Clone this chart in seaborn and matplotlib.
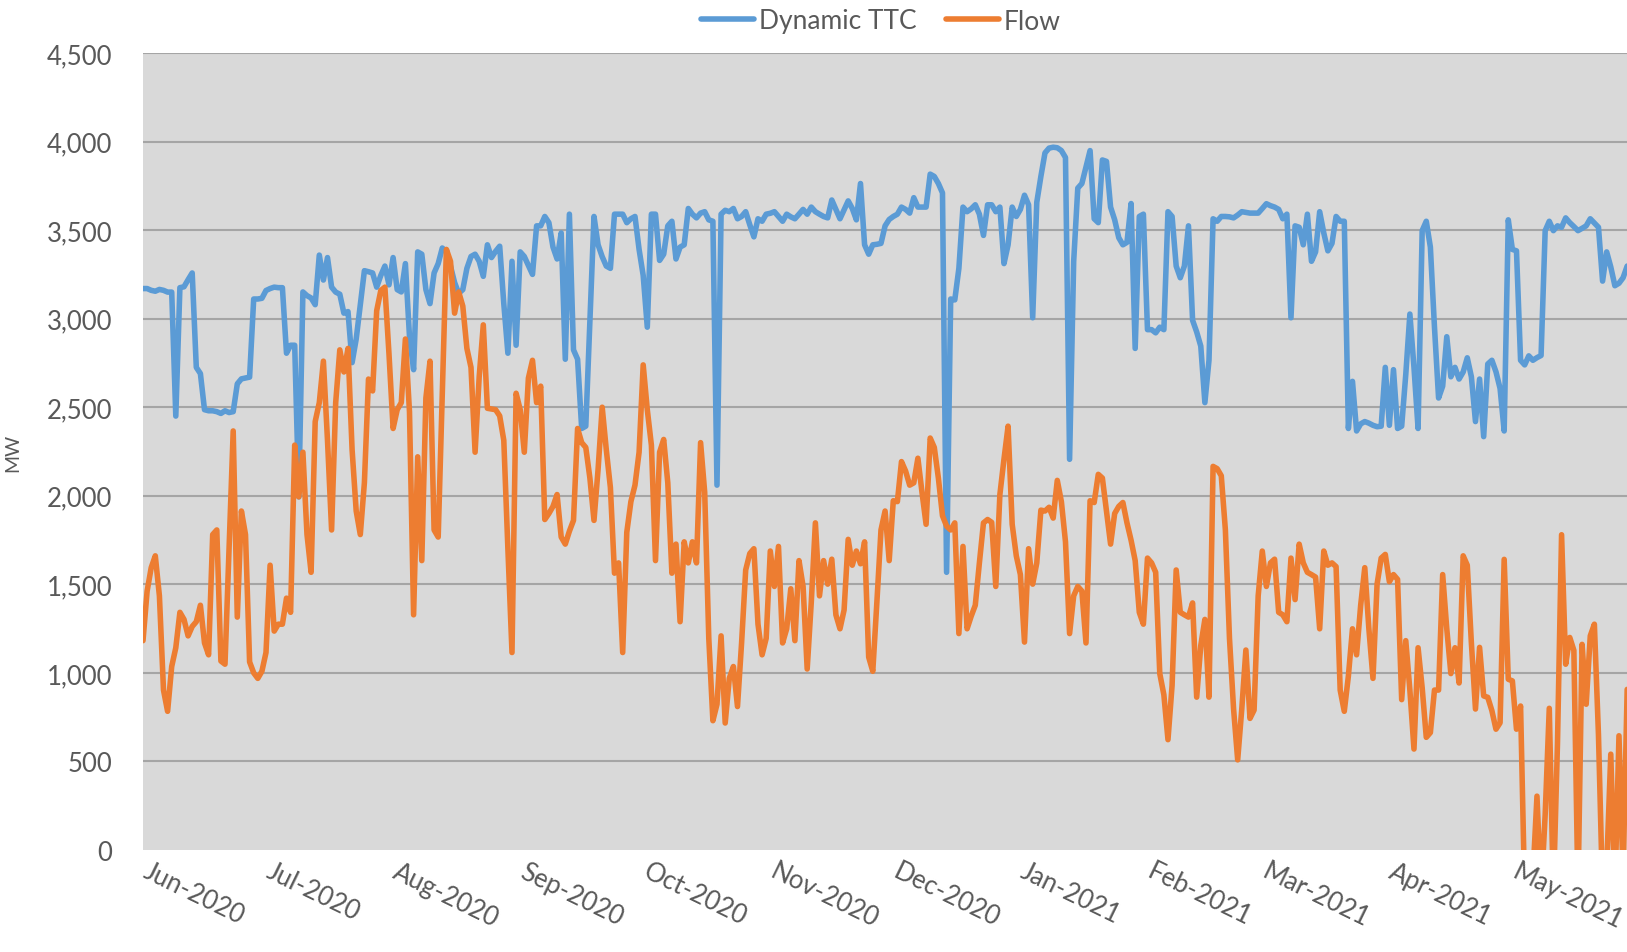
import numpy as np
import pandas as pd
import matplotlib
matplotlib.use("Agg")
import matplotlib.pyplot as plt
import matplotlib.dates as mdates
import matplotlib.ticker as mticker
import matplotlib.transforms as mtransforms
import seaborn as sns

# ---------------- data (daily, starting 1 Jun 2020) ----------------
start_date = "2020-06-01"

dynamic_ttc = [
    3170, 3170, 3160, 3155, 3165, 3160, 3150, 3150, 2450, 3175,
    3180, 3220, 3258, 2725, 2690, 2486, 2480, 2480, 2475, 2465,
    2480, 2470, 2475, 2632, 2660, 2665, 2670, 3111, 3111, 3115,
    3159, 3170, 3178, 3175, 3175, 2805, 2850, 2850, 1994, 3151,
    3130, 3117, 3079, 3359, 3218, 3345, 3178, 3150, 3138, 3031,
    3040, 2752, 2885, 3080, 3271, 3265, 3258, 3178, 3244, 3297,
    3191, 3345, 3164, 3151, 3311, 2898, 2712, 3377, 3364, 3164,
    3085, 3258, 3311, 3399, 3377, 3297, 3204, 3143, 3164, 3284,
    3351, 3364, 3324, 3239, 3417, 3345, 3380, 3409, 3085, 2805,
    3324, 2850, 3377, 3351, 3300, 3250, 3524, 3524, 3577, 3542,
    3404, 3337, 3484, 2771, 3590, 2824, 2771, 2380, 2393, 2990,
    3577, 3417, 3350, 3297, 3284, 3590, 3590, 3590, 3542, 3564,
    3577, 3391, 3244, 2952, 3590, 3590, 3329, 3364, 3524, 3550,
    3337, 3404, 3417, 3622, 3590, 3569, 3596, 3604, 3558, 3550,
    2060, 3590, 3612, 3604, 3622, 3564, 3577, 3604, 3530, 3462,
    3564, 3550, 3590, 3595, 3604, 3577, 3550, 3590, 3575, 3564,
    3590, 3617, 3590, 3630, 3604, 3590, 3577, 3569, 3670, 3617,
    3564, 3615, 3665, 3622, 3558, 3763, 3417, 3364, 3417, 3420,
    3425, 3524, 3560, 3577, 3590, 3630, 3617, 3596, 3683, 3630,
    3630, 3630, 3816, 3803, 3763, 3710, 1568, 3111, 3106, 3284,
    3630, 3604, 3620, 3643, 3590, 3470, 3643, 3643, 3604, 3630,
    3311, 3417, 3630, 3577, 3617, 3697, 3643, 3005, 3657, 3803,
    3936, 3963, 3968, 3965, 3949, 3910, 2206, 3324, 3737, 3763,
    3856, 3949, 3564, 3542, 3896, 3888, 3630, 3558, 3457, 3417,
    3431, 3650, 2832, 3577, 3590, 2938, 2938, 2920, 2952, 2938,
    3604, 3577, 3297, 3231, 3297, 3524, 2991, 2925, 2845, 2526,
    2765, 3564, 3550, 3577, 3577, 3575, 3569, 3585, 3604, 3600,
    3596, 3596, 3596, 3622, 3649, 3638, 3630, 3617, 3564, 3590,
    3005, 3524, 3516, 3417, 3590, 3324, 3377, 3604, 3484, 3383,
    3425, 3577, 3550, 3550, 2380, 2646, 2366, 2406, 2419, 2410,
    2398, 2390, 2393, 2725, 2398, 2712, 2380, 2393, 2685, 3026,
    2725, 2380, 3497, 3550, 3404, 2952, 2552, 2619, 2898, 2672,
    2725, 2659, 2699, 2779, 2672, 2419, 2659, 2334, 2744, 2765,
    2700, 2606, 2366, 3558, 3391, 3383, 2765, 2739, 2790, 2765,
    2780, 2792, 3497, 3550, 3497, 3524, 3516, 3569, 3542, 3520,
    3497, 3510, 3524, 3564, 3540, 3516, 3212, 3377, 3292, 3186,
    3200, 3231, 3297,
]

flow = [
    1182, 1461, 1594, 1661, 1435, 903, 783, 1036, 1142, 1342,
    1302, 1209, 1262, 1289, 1382, 1169, 1102, 1781, 1807, 1067,
    1049, 1700, 2366, 1315, 1914, 1781, 1062, 1000, 969, 1009,
    1115, 1608, 1236, 1275, 1275, 1422, 1342, 2286, 1994, 2246,
    1781, 1568, 2419, 2526, 2760, 2313, 1807, 2526, 2824, 2699,
    2832, 2260, 1914, 1781, 2074, 2659, 2592, 3045, 3159, 3178,
    2800, 2380, 2486, 2526, 2885, 2473, 1328, 2220, 1634, 2552,
    2760, 1807, 1767, 2579, 3391, 3324, 3031, 3151, 3071, 2832,
    2725, 2246, 2672, 2965, 2494, 2490, 2486, 2451, 2313, 1700,
    1115, 2579, 2486, 2246, 2664, 2765, 2526, 2619, 1866, 1900,
    1940, 2007, 1767, 1727, 1800, 1861, 2380, 2300, 2273, 2100,
    1861, 2150, 2500, 2260, 2047, 1563, 1621, 1115, 1794, 1967,
    2060, 2246, 2739, 2486, 2286, 1634, 2246, 2318, 2073, 1563,
    1727, 1289, 1740, 1621, 1740, 1621, 2300, 2020, 1195, 730,
    823, 1209, 717, 969, 1036, 810, 1169, 1581, 1674, 1701,
    1275, 1102, 1195, 1688, 1488, 1714, 1169, 1249, 1475, 1182,
    1634, 1488, 1022, 1400, 1847, 1435, 1634, 1501, 1642, 1328,
    1249, 1355, 1754, 1608, 1688, 1616, 1740, 1089, 1009, 1400,
    1807, 1914, 1634, 1972, 1967, 2193, 2140, 2060, 2073, 2212,
    2020, 1839, 2326, 2273, 2100, 1887, 1829, 1807, 1847, 1222,
    1714, 1249, 1320, 1382, 1621, 1847, 1866, 1850, 1488, 2007,
    2207, 2393, 1839, 1661, 1555, 1174, 1701, 1501, 1621, 1919,
    1914, 1935, 1874, 2087, 1967, 1740, 1222, 1435, 1488, 1462,
    1169, 1972, 1962, 2121, 2100, 1914, 1727, 1900, 1940, 1962,
    1847, 1749, 1634, 1342, 1275, 1648, 1621, 1568, 996, 876,
    623, 929, 1581, 1342, 1328, 1315, 1395, 863, 1155, 1302,
    863, 2166, 2153, 2113, 1807, 1195, 796, 509, 796, 1129,
    743, 790, 1435, 1688, 1488, 1621, 1642, 1342, 1328, 1289,
    1648, 1414, 1727, 1621, 1568, 1555, 1541, 1249, 1688, 1608,
    1621, 1600, 903, 783, 982, 1249, 1102, 1382, 1594, 1249,
    969, 1501, 1648, 1669, 1515, 1555, 1528, 849, 1182, 903,
    570, 1142, 916, 636, 663, 903, 903, 1555, 1249, 996,
    1142, 943, 1661, 1608, 1169, 796, 1144, 870, 862, 787,
    682, 718, 1641, 964, 955, 682, 813, -250, -100, -150,
    304, -250, 200, 800, -250, 600, 1780, 1049, 1200, 1127,
    -250, 1161, 823, 1209, 1275, 650, -250, -100, 541, -250,
    645, -150, 907,
]

series_names = ["Dynamic TTC", "Flow"]
series_colors = ["#5B9BD5", "#ED7D31"]
y_ticks = [0, 500, 1000, 1500, 2000, 2500, 3000, 3500, 4000, 4500]
y_label = "MW"

# ---------------- build long table ----------------
n = min(len(dynamic_ttc), len(flow))
dates = pd.date_range(start_date, periods=n, freq="D")
df = pd.concat([
    pd.DataFrame({"date": dates, "MW": dynamic_ttc[:n], "series": series_names[0]}),
    pd.DataFrame({"date": dates, "MW": flow[:n], "series": series_names[1]}),
], ignore_index=True)

# ---------------- figure ----------------
W, H = 1627, 953
fig = plt.figure(figsize=(W / 100, H / 100), dpi=100)
fig.patch.set_facecolor("white")
left, right, top, bottom = 143, 1627, 54, 851
ax = fig.add_axes([left / W, 1 - bottom / H, (right - left) / W, (bottom - top) / H])
ax.set_facecolor("#D9D9D9")

font = "Lato"
txt_color = "#595959"
lw = 4.0

sns.lineplot(data=df, x="date", y="MW", hue="series", hue_order=series_names,
             palette=series_colors, linewidth=lw, ax=ax, legend=False,
             estimator=None, sort=False)
for ln in ax.get_lines():
    ln.set_solid_joinstyle("round")
    ln.set_solid_capstyle("round")
    ln.set_zorder(3)

ax.set_ylim(0, 4500)
ax.set_xlim(dates[0], dates[-1] + pd.Timedelta(hours=-1))
ax.yaxis.set_major_locator(mticker.FixedLocator(y_ticks))
ax.yaxis.set_major_formatter(mticker.FuncFormatter(lambda v, p: f"{int(v):,}"))
ax.xaxis.set_major_locator(mdates.MonthLocator())
ax.xaxis.set_major_formatter(mdates.DateFormatter("%b-%Y"))

ax.grid(axis="y", color="#A5A5A5", linewidth=1.5, zorder=1)
ax.grid(axis="x", visible=False)
ax.set_axisbelow(True)
for s in ax.spines.values():
    s.set_visible(False)

ax.tick_params(axis="y", length=0, pad=22, labelsize=18.5, labelcolor=txt_color)
ax.tick_params(axis="x", length=0, pad=6, labelsize=18.5, labelcolor=txt_color)
for lab in ax.get_yticklabels():
    lab.set_fontfamily(font)
shift = mtransforms.ScaledTranslation(7 / 100, 0, fig.dpi_scale_trans)
for lab in ax.get_xticklabels():
    lab.set_fontfamily(font)
    lab.set_rotation(-26)
    lab.set_ha("left")
    lab.set_va("top")
    lab.set_rotation_mode("anchor")
    lab.set_transform(lab.get_transform() + shift)

ax.set_xlabel("")
ax.set_ylabel(y_label, fontsize=14, color=txt_color, fontfamily=font)
ax.yaxis.set_label_coords((21 - left) / (right - left), 0.5)

gl = ax.get_ygridlines()
if len(gl):
    gl[0].set_visible(False)

handles = [plt.Line2D([], [], color=c, linewidth=lw, solid_capstyle="round")
           for c in series_colors]
fig.legend(handles, series_names, loc="center", bbox_to_anchor=(881 / W, 1 - 22 / H),
           ncol=2, frameon=False, handlelength=2.0, handletextpad=0.2,
           columnspacing=1.1, prop={"family": font, "size": 19},
           labelcolor=txt_color)

fig.savefig("out.png", dpi=100, facecolor="white")
